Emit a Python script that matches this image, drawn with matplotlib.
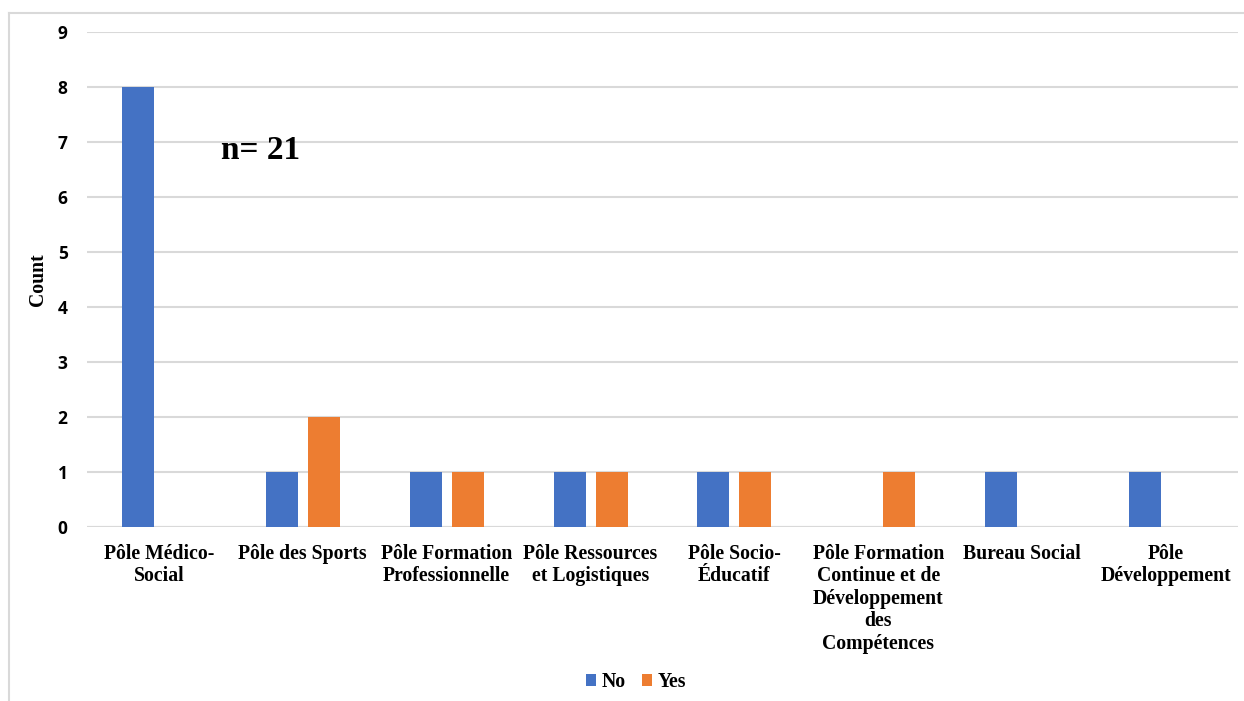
import matplotlib
matplotlib.use("Agg")
import matplotlib.pyplot as plt
from matplotlib.patches import Patch
from matplotlib.lines import Line2D
import numpy as np

categories = [
    "Pôle Médico-\nSocial",
    "Pôle des Sports",
    "Pôle Formation\nProfessionnelle",
    "Pôle Ressources\net Logistiques",
    "Pôle Socio-\nÉducatif",
    "Pôle Formation\nContinue et de\nDéveloppement\ndes\nCompétences",
    "Bureau Social",
    "Pôle\nDéveloppement",
]
no_counts = [8, 1, 1, 1, 1, 0, 1, 1]
yes_counts = [0, 2, 1, 1, 1, 1, 0, 0]
series_names = ["No", "Yes"]
annotation = "n= 21"

BLUE = "#4472C4"
ORANGE = "#ED7D31"
GRID = "#D9D9D9"
SERIF = "Liberation Serif"
SANS = "Open Sans"

W, H = 1244, 701
fig = plt.figure(figsize=(W / 100, H / 100), dpi=100)
fig.patch.set_facecolor("white")

# chart-area border (left and top edges visible)
fig.add_artist(Line2D([9 / W, 9 / W], [0, 1 - 13 / H], transform=fig.transFigure,
                      color="#D9D9D9", lw=1.5))
fig.add_artist(Line2D([9 / W, 1], [1 - 13 / H, 1 - 13 / H], transform=fig.transFigure,
                      color="#D9D9D9", lw=1.5))

left, right = 87 / W, 1238 / W
bottom, top = 1 - 527 / H, 1 - 32 / H
ax = fig.add_axes([left, bottom, right - left, top - bottom])

x = np.arange(len(categories))
bw = 32 / 144
off = 21 / 144
ax.bar(x - off, no_counts, width=bw, color=BLUE, zorder=3)
ax.bar(x + off, yes_counts, width=bw, color=ORANGE, zorder=3)

ax.set_xlim(-0.5, len(categories) - 0.5)
ax.set_ylim(0, 9)
ax.set_yticks(range(0, 10))
ax.yaxis.grid(True, color=GRID, lw=1.5, zorder=0)
ax.set_axisbelow(True)
for s in ax.spines.values():
    s.set_visible(False)
ax.axhline(0, color=GRID, lw=1.5, zorder=1)

ax.set_xticks(x)
ax.set_xticklabels(categories, fontfamily=SERIF, fontweight="bold",
                   fontsize=14.2, linespacing=1.17, va="top")
ax.tick_params(axis="x", length=0, pad=12)
ax.tick_params(axis="y", length=0, pad=14)
for lbl in ax.get_yticklabels():
    lbl.set_fontfamily(SANS)
    lbl.set_fontweight("bold")
    lbl.set_fontsize(12.5)

ax.set_ylabel("Count", fontfamily=SERIF, fontweight="bold", fontsize=14.2)
ax.yaxis.set_label_coords(-0.034, 0.5)

ax.text(0.43, 6.85, annotation, fontfamily=SERIF, fontweight="bold",
        fontsize=24, va="center", ha="left")

handles = [Patch(facecolor=BLUE, label=series_names[0]),
           Patch(facecolor=ORANGE, label=series_names[1])]
fig.legend(handles=handles, loc="center", bbox_to_anchor=(636 / W, 1 - 682 / H),
           ncol=2, frameon=False, handlelength=0.5, handleheight=0.5,
           handletextpad=0.3, columnspacing=0.8,
           prop={"family": SERIF, "weight": "bold", "size": 14.2})

fig.savefig("out.png", dpi=100, facecolor="white")
